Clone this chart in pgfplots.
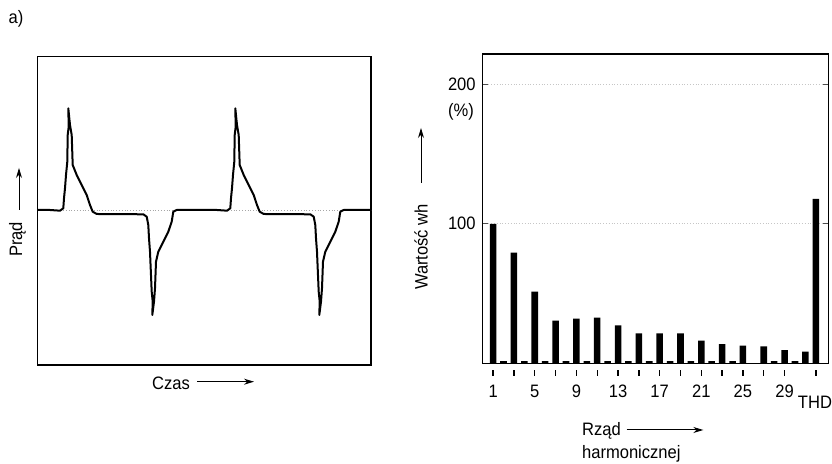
\documentclass[border=0pt]{standalone}
\usepackage{fontspec}
\setmainfont{Liberation Sans}[FakeStretch=0.92]
\usepackage{pgfplots}
\pgfplotsset{compat=1.18}
\usetikzlibrary{arrows.meta}

\begin{document}
\begin{tikzpicture}[font=\fontsize{9}{11}\selectfont]
\path (0pt,0pt) rectangle (416pt,232pt);

% ---------- left: current waveform ----------
\begin{axis}[
  at={(18.85pt,49.5pt)}, anchor=south west, scale only axis,
  width=166.65pt, height=154.15pt,
  xmin=37.7, xmax=371, ymin=-155, ymax=153.3,
  xtick=\empty, ytick=\empty,
  axis line style={line width=0.7pt},
]
\addplot[gray!70, densely dotted, line width=0.4pt] coordinates {(37.7,0) (371,0)};
\addplot[black, line width=1pt, line join=round] coordinates {
(37.7,0) (50,0) (60,-0.7) (63.3,1.7) (64,11.7) (65,21.7) (66,35) (67.3,48.3) (67.7,75) (68.7,83.3) (68.3,101.7)
(70,85) (71.7,75) (72.7,45) (76.7,35) (81.7,25) (86.7,15) (90,5) (92.7,-1.7) (96.7,-4) (143.3,-4.3)
(146.7,-6.7) (148.3,-15) (149,-28.3) (150,-41.7) (150.7,-58.3) (151.7,-81.7) (152.7,-91.7) (152.3,-105)
(154,-91.7) (155,-78.3) (156,-51.7) (158.3,-41.7) (163.3,-31.7) (168.3,-21.7) (171.7,-11.7) (173.3,-1.7) (176.7,0)
(217,0) (227,-0.7) (230.3,1.7) (231,11.7) (232,21.7) (233,35) (234.3,48.3) (234.7,75) (235.7,83.3) (235.3,101.7)
(237,85) (238.7,75) (239.7,45) (243.7,35) (248.7,25) (253.7,15) (257,5) (259.7,-1.7) (263.7,-4) (310.3,-4.3)
(313.7,-6.7) (315.3,-15) (316,-28.3) (317,-41.7) (317.7,-58.3) (318.7,-81.7) (319.7,-91.7) (319.3,-105)
(321,-91.7) (322,-78.3) (323,-51.7) (325.3,-41.7) (330.3,-31.7) (335.3,-21.7) (338.7,-11.7) (340.3,-1.7) (343.7,0)
(371,0)
};
\end{axis}

% ---------- right: harmonic spectrum ----------
\begin{axis}[
  at={(241.35pt,50.35pt)}, anchor=south west, scale only axis,
  width=172.8pt, height=154.65pt,
  xmin=0, xmax=33.2, ymin=0, ymax=221.7,
  ybar, bar width=0.63, bar shift=0pt,
  axis line style={line width=0.7pt},
  tick align=inside, major tick length=2.5pt,
  xtick={1,3,5,7,9,11,13,15,17,19,21,23,25,27,29,32},
  xticklabels={1,,5,,9,,13,,17,,21,,25,,29,},
  xtick pos=bottom,
  xtick style={draw=none},
  xticklabel style={yshift=-7.5pt},
  ytick={100,200},
  ytick style={line width=0.5pt, black!70},
  ymajorgrids, major grid style={gray!45, densely dotted, line width=0.4pt},
  /pgf/number format/assume math mode=true,
]
\addplot[fill=black, draw=none] coordinates {
(1,100) (2,1.5) (3,79.3) (4,1.5) (5,51.3) (6,1.5) (7,30.5) (8,1.5) (9,32.0) (10,1.5)
(11,32.7) (12,1.5) (13,27.2) (14,1.5) (15,21.5) (16,1.5) (17,21.5) (18,1.5) (19,21.5) (20,1.5)
(21,16.2) (22,1.5) (23,13.8) (24,1.5) (25,12.6) (27,12.2) (28,1.5) (29,9.5) (30,1.5) (31,8.3)
(32,117.8)
};
\end{axis}

% detached x tick marks below the spectrum axis (drawn as a comb plot)
\begin{axis}[
  at={(241.35pt,44.2pt)}, anchor=south west, scale only axis,
  width=172.8pt, height=2.6pt,
  xmin=0, xmax=33.2, ymin=0, ymax=1,
  hide axis, clip=false,
]
\addplot[ycomb, black, line width=0.7pt, mark=none] coordinates {
(1,1) (3,1) (5,1) (7,1) (9,1) (11,1) (13,1) (15,1) (17,1) (19,1) (21,1) (23,1) (25,1) (27,1) (29,1) (32,1)
};
\end{axis}

% ---------- labels (coordinates in reference pixels, y measured upward) ----------
\begin{scope}[x=0.5pt,y=0.5pt]
\node[anchor=base west, inner sep=0] at (8.3,440.7) {a)};

\node[rotate=90] at (17.5,224.5) {Prąd};
\draw[line width=0.5pt, -{Stealth[length=5pt,width=3pt]}] (19,254) -- (19,296);

\node[anchor=base west, inner sep=0] at (151.7,74.7) {Czas};
\draw[line width=0.5pt, -{Stealth[length=5pt,width=3pt]}] (197,82.3) -- (254,82.3);

\node[rotate=90] at (421,217) {Wartość wh};
\draw[line width=0.5pt, -{Stealth[length=5pt,width=3pt]}] (421,281) -- (421,336);

\node at (461,352) {(\%)};
\node[anchor=base, inner sep=0] at (815,55.7) {THD};

\node[anchor=base west, inner sep=0] at (581.7,28) {Rząd};
\draw[line width=0.5pt, -{Stealth[length=5pt,width=3pt]}] (626.7,34) -- (703.3,34);
\node[anchor=base west, inner sep=0] at (581.7,5.7) {harmonicznej};
\end{scope}
\end{tikzpicture}
\end{document}
